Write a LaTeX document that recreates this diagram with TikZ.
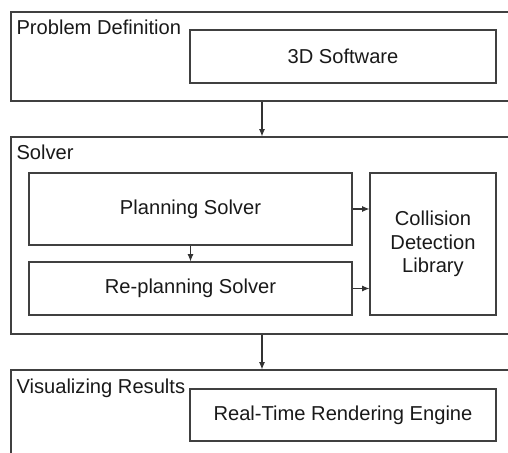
\documentclass[tikz,border=0pt]{standalone}
\usepackage{fontspec}
\setmainfont{Liberation Sans}
\usetikzlibrary{arrows.meta,positioning}

\begin{document}
\begin{tikzpicture}[x=0.75pt,y=-0.75pt,>={Latex[length=5.5pt,width=4.5pt]},line width=0.8pt,
    box/.style={draw=black!75,rectangle,inner sep=0pt,align=center,text=black!90,
        font=\fontsize{15.1}{17.6}\selectfont},
    tag/.style={anchor=base west,inner sep=0pt,text=black!90,
        font=\fontsize{15.1}{17.6}\selectfont},
    link/.style={->,draw=black!80}]
    \useasboundingbox (0,0) rectangle (508,453);
    \clip (0,0) rectangle (508,453);
    \node[box,minimum width=376.5pt,minimum height=66.75pt] (Prob) at (262,56.5) {};
    \node[box,minimum width=376.5pt,minimum height=147.75pt] (Solv) at (262,235.5) {};
    \node[box,minimum width=376.5pt,minimum height=75pt] (Vis) at (262,420) {};
    \node[tag] (ProbTag) at (16,35) {Problem Definition};
    \node[tag] (SolvTag) at (16,160) {Solver};
    \node[tag] (VisTag) at (16,393) {Visualizing Results};
    \node[box,minimum width=229.5pt,minimum height=39.75pt] (Soft) at (343,56.5) {3D Software};
    \node[box,minimum width=242.25pt,minimum height=54pt] (Plan) at (190.5,209) {Planning Solver};
    \node[box,minimum width=242.25pt,minimum height=39.75pt] (Replan) at (190.5,288.5) {Re-planning Solver};
    \node[box,minimum width=94.5pt,minimum height=106.5pt] (Coll) at (433,244) {Collision\\Detection\\Library};
    \node[box,minimum width=229.5pt,minimum height=39pt] (Rend) at (343,415) {Real-Time Rendering Engine};
    \draw[link] (Prob.south)--(Solv.north);
    \draw[link] (Solv.south)--(Vis.north);
    \draw[link] (Plan.south)--(Replan.north);
    \draw[link] (Plan.east)--(Plan.east -| Coll.west);
    \draw[link] (Replan.east)--(Replan.east -| Coll.west);
\end{tikzpicture}
\end{document}
